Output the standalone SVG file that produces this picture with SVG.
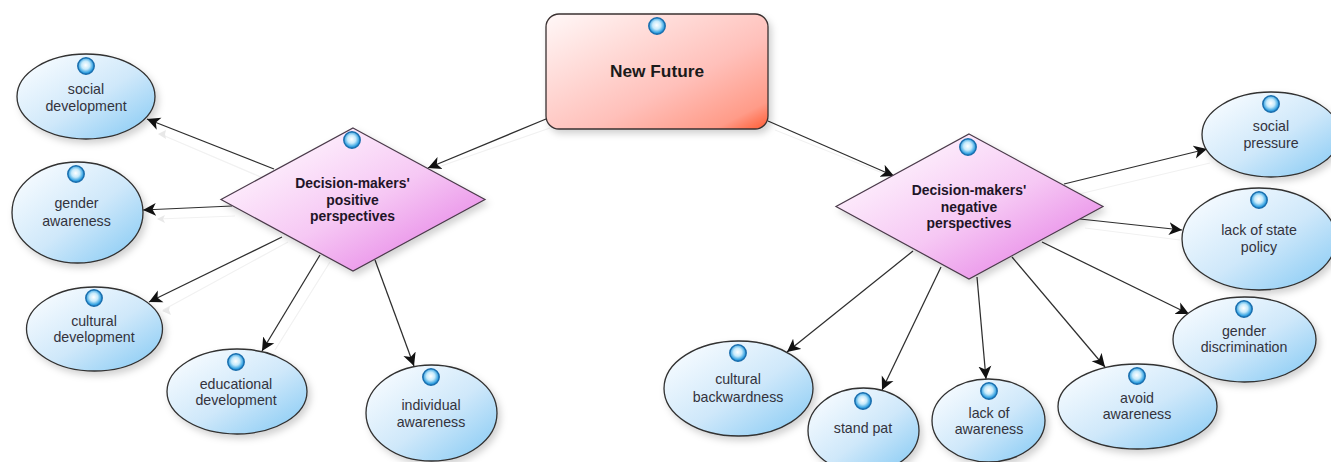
<svg xmlns="http://www.w3.org/2000/svg" xmlns:xlink="http://www.w3.org/1999/xlink" width="1331" height="462" viewBox="0 0 1331 462">
<style>
text{font-family:"Liberation Sans",Arial,sans-serif;text-anchor:middle;fill:#33333d}
.t{font-size:14.2px}
.b{font-size:13.9px;font-weight:bold;fill:#1f1528}
.h{font-size:17.3px;font-weight:bold;fill:#1a1a1a}
.e{fill:url(#gE);stroke:#303030;stroke-width:1.3;filter:url(#sh)}
.d{fill:url(#gD);stroke:#4a3a4a;stroke-width:1.2;filter:url(#sh)}
.r{fill:url(#gR);stroke:#3a3030;stroke-width:1.3;filter:url(#sh)}
.c{fill:none;stroke:#2e2e2e;stroke-width:1.25;marker-end:url(#ah)}
.g{fill:none;stroke:#f1f1f1;stroke-width:1.2}
.gh{fill:#e8e8e8}
.o{fill:url(#gB);stroke:#1b6fae;stroke-width:1.5}
</style>
<defs>
<linearGradient id="gE" x1="0.1" y1="0.1" x2="0.9" y2="0.9"><stop offset="0" stop-color="#f6fbff"/><stop offset="0.55" stop-color="#cfe8fa"/><stop offset="1" stop-color="#92cff5"/></linearGradient>
<linearGradient id="gD" x1="0.15" y1="0.15" x2="0.85" y2="0.85"><stop offset="0" stop-color="#fef3fd"/><stop offset="0.55" stop-color="#f6c8f4"/><stop offset="1" stop-color="#e88ce8"/></linearGradient>
<linearGradient id="gR" x1="0" y1="0" x2="1" y2="1"><stop offset="0" stop-color="#fff8f8"/><stop offset="0.6" stop-color="#ffc0ba"/><stop offset="0.88" stop-color="#ff9b88"/><stop offset="1" stop-color="#ff5a32"/></linearGradient>
<radialGradient id="gB" cx="0.48" cy="0.45" r="0.55"><stop offset="0" stop-color="#ffffff"/><stop offset="0.45" stop-color="#c6eafb"/><stop offset="0.85" stop-color="#2f9fe0"/><stop offset="1" stop-color="#1b7cc4"/></radialGradient>
<filter id="sh" x="-15%" y="-15%" width="135%" height="140%"><feDropShadow dx="3" dy="4" stdDeviation="3.5" flood-color="#000" flood-opacity="0.18"/></filter>
<marker id="ah" markerUnits="userSpaceOnUse" markerWidth="16" markerHeight="16" refX="13" refY="7" orient="auto"><path d="M0,0.500 L13,7 L0,13.500 L3.500,7Z" fill="#111"/></marker>
<circle id="bub" r="8.200" class="o"/>
</defs>
<rect width="1331" height="462" fill="#fff"/>
<g id="connectors">
<path class="g" d="M160,134L270,181M158,219L235,216M163,310L288,242M275,350L330,262M424,172L550,128M1210,163L1075,195M1180,240L1085,228M905,182L775,130"/>
<path class="gh" d="M158,134l8,-4l-1,4l1,5zM157,219l8,-4l-2,4l2,4zM162,311l8,-5l-1,4l2,5z"/>
<path class="c" d="M546,119L428,168"/>
<path class="c" d="M768,121L894,176"/>
<path class="c" d="M274,169L147,119"/>
<path class="c" d="M232,206L143,210"/>
<path class="c" d="M282,237L149,302"/>
<path class="c" d="M320,255L262,351"/>
<path class="c" d="M375,260L414,366"/>
<path class="c" d="M1064,184L1207,149"/>
<path class="c" d="M1080,219L1182,230"/>
<path class="c" d="M1042,242L1189,314"/>
<path class="c" d="M1012,257L1105,367"/>
<path class="c" d="M977,277L986,379"/>
<path class="c" d="M941,267L882,390"/>
<path class="c" d="M913,251L787,352"/>
</g>
<g id="new-future"><rect class="r" x="546" y="14" width="222" height="115" rx="13"/><use xlink:href="#bub" href="#bub" x="657" y="26"/><text class="h" x="657" y="77">New Future</text></g>
<g id="positive"><path class="d" d="M353,128L485,199.500L353,271L221,199.500Z"/><use xlink:href="#bub" href="#bub" x="352" y="140"/><text class="b" x="352.500" y="188">Decision-makers'</text><text class="b" x="352.500" y="204.500">positive</text><text class="b" x="352.500" y="221">perspectives</text></g>
<g id="negative"><path class="d" d="M969,134L1103,206.500L969,279L836,206.500Z"/><use xlink:href="#bub" href="#bub" x="968" y="147"/><text class="b" x="969" y="195">Decision-makers'</text><text class="b" x="969" y="211.500">negative</text><text class="b" x="969" y="228">perspectives</text></g>
<g id="social-development"><ellipse class="e" cx="86" cy="96.500" rx="69" ry="42.500"/><use xlink:href="#bub" href="#bub" x="86" y="66"/><text class="t" x="86" y="94">social</text><text class="t" x="86" y="110.500">development</text></g>
<g id="gender-awareness"><ellipse class="e" cx="77.500" cy="212.500" rx="65.500" ry="50.500"/><use xlink:href="#bub" href="#bub" x="76" y="174"/><text class="t" x="76.500" y="208">gender</text><text class="t" x="76.500" y="226">awareness</text></g>
<g id="cultural-development"><ellipse class="e" cx="94.500" cy="329" rx="68" ry="42"/><use xlink:href="#bub" href="#bub" x="94" y="298"/><text class="t" x="94" y="326">cultural</text><text class="t" x="94" y="342">development</text></g>
<g id="educational-development"><ellipse class="e" cx="237" cy="391.500" rx="70" ry="42.500"/><use xlink:href="#bub" href="#bub" x="236" y="362"/><text class="t" x="236" y="389">educational</text><text class="t" x="236" y="405">development</text></g>
<g id="individual-awareness"><ellipse class="e" cx="431.500" cy="413" rx="65.500" ry="48"/><use xlink:href="#bub" href="#bub" x="431" y="377"/><text class="t" x="431" y="410">individual</text><text class="t" x="431" y="427">awareness</text></g>
<g id="social-pressure"><ellipse class="e" cx="1271" cy="134.500" rx="69" ry="42.500"/><use xlink:href="#bub" href="#bub" x="1271" y="104"/><text class="t" x="1271" y="131">social</text><text class="t" x="1271" y="148">pressure</text></g>
<g id="lack-of-state-policy"><ellipse class="e" cx="1259" cy="239" rx="77" ry="51"/><use xlink:href="#bub" href="#bub" x="1259" y="200"/><text class="t" x="1259" y="235">lack of state</text><text class="t" x="1259" y="252">policy</text></g>
<g id="gender-discrimination"><ellipse class="e" cx="1244.500" cy="339.500" rx="71.500" ry="42.500"/><use xlink:href="#bub" href="#bub" x="1244" y="309"/><text class="t" x="1244" y="336">gender</text><text class="t" x="1244" y="352">discrimination</text></g>
<g id="avoid-awareness"><ellipse class="e" cx="1137.500" cy="406.500" rx="79.500" ry="42.500"/><use xlink:href="#bub" href="#bub" x="1137" y="376"/><text class="t" x="1137" y="403">avoid</text><text class="t" x="1137" y="419">awareness</text></g>
<g id="lack-of-awareness"><ellipse class="e" cx="988.500" cy="420.500" rx="56.500" ry="41.500"/><use xlink:href="#bub" href="#bub" x="989" y="391"/><text class="t" x="989" y="418">lack of</text><text class="t" x="989" y="434">awareness</text></g>
<g id="stand-pat"><ellipse class="e" cx="863.500" cy="430.500" rx="55.500" ry="42.500"/><use xlink:href="#bub" href="#bub" x="863" y="401"/><text class="t" x="863" y="433">stand pat</text></g>
<g id="cultural-backwardness"><ellipse class="e" cx="738.500" cy="388.500" rx="74.500" ry="47.500"/><use xlink:href="#bub" href="#bub" x="738" y="353"/><text class="t" x="738" y="384">cultural</text><text class="t" x="738" y="402">backwardness</text></g>
</svg>
